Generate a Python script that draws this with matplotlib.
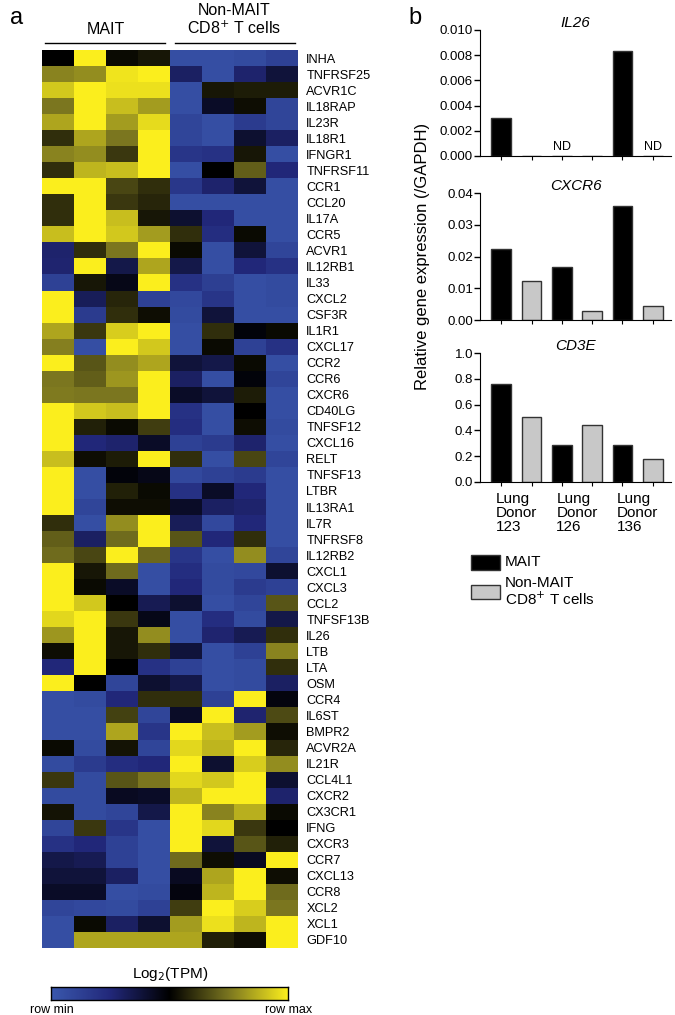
import numpy as np
import matplotlib
matplotlib.use("Agg")
import matplotlib.pyplot as plt
from matplotlib.colors import LinearSegmentedColormap

plt.rcParams['font.family'] = ['Liberation Sans', 'DejaVu Sans']

# heatmap rows (row-scaled: 0 = row min, 1 = row max)
genes = ['INHA', 'TNFRSF25', 'ACVR1C', 'IL18RAP', 'IL23R', 'IL18R1', 'IFNGR1', 'TNFRSF11',
         'CCR1', 'CCL20', 'IL17A', 'CCR5', 'ACVR1', 'IL12RB1', 'IL33', 'CXCL2', 'CSF3R',
         'IL1R1', 'CXCL17', 'CCR2', 'CCR6', 'CXCR6', 'CD40LG', 'TNFSF12', 'CXCL16', 'RELT',
         'TNFSF13', 'LTBR', 'IL13RA1', 'IL7R', 'TNFRSF8', 'IL12RB2', 'CXCL1', 'CXCL3', 'CCL2',
         'TNFSF13B', 'IL26', 'LTB', 'LTA', 'OSM', 'CCR4', 'IL6ST', 'BMPR2', 'ACVR2A', 'IL21R',
         'CCL4L1', 'CXCR2', 'CX3CR1', 'IFNG', 'CXCR3', 'CCR7', 'CXCL13', 'CCR8', 'XCL2',
         'XCL1', 'GDF10']

heat = [
    [0.50, 1.00, 0.52, 0.55, 0.05, 0.05, 0.07, 0.12],
    [0.78, 0.80, 0.98, 1.00, 0.30, 0.05, 0.28, 0.38],
    [0.92, 1.00, 0.97, 0.97, 0.05, 0.55, 0.56, 0.56],
    [0.75, 1.00, 0.90, 0.83, 0.05, 0.42, 0.53, 0.10],
    [0.85, 1.00, 0.83, 0.96, 0.10, 0.05, 0.15, 0.10],
    [0.60, 0.85, 0.75, 1.00, 0.10, 0.05, 0.40, 0.30],
    [0.78, 0.80, 0.62, 1.00, 0.18, 0.20, 0.55, 0.05],
    [0.60, 0.88, 0.90, 1.00, 0.05, 0.50, 0.70, 0.25],
    [1.00, 1.00, 0.65, 0.60, 0.17, 0.28, 0.38, 0.05],
    [0.60, 1.00, 0.62, 0.58, 0.05, 0.05, 0.05, 0.05],
    [0.60, 1.00, 0.90, 0.55, 0.40, 0.25, 0.05, 0.05],
    [0.90, 1.00, 0.92, 0.83, 0.60, 0.22, 0.52, 0.05],
    [0.28, 0.60, 0.75, 1.00, 0.52, 0.05, 0.38, 0.10],
    [0.27, 1.00, 0.35, 0.85, 0.35, 0.05, 0.25, 0.20],
    [0.12, 0.55, 0.45, 1.00, 0.20, 0.13, 0.05, 0.07],
    [1.00, 0.32, 0.58, 0.12, 0.08, 0.18, 0.05, 0.07],
    [1.00, 0.15, 0.60, 0.53, 0.07, 0.38, 0.05, 0.05],
    [0.85, 0.62, 0.93, 1.00, 0.05, 0.60, 0.48, 0.52],
    [0.77, 0.05, 1.00, 0.92, 0.05, 0.52, 0.12, 0.20],
    [1.00, 0.68, 0.80, 0.85, 0.38, 0.35, 0.52, 0.05],
    [0.75, 0.70, 0.82, 1.00, 0.30, 0.05, 0.48, 0.10],
    [0.76, 0.75, 0.75, 1.00, 0.42, 0.38, 0.56, 0.05],
    [1.00, 0.92, 0.90, 1.00, 0.20, 0.05, 0.50, 0.05],
    [1.00, 0.57, 0.52, 0.63, 0.22, 0.05, 0.53, 0.07],
    [1.00, 0.25, 0.28, 0.42, 0.12, 0.15, 0.28, 0.05],
    [0.90, 0.53, 0.56, 1.00, 0.60, 0.05, 0.65, 0.10],
    [1.00, 0.05, 0.48, 0.45, 0.08, 0.12, 0.15, 0.05],
    [1.00, 0.05, 0.57, 0.52, 0.20, 0.42, 0.25, 0.05],
    [1.00, 0.10, 0.53, 0.53, 0.42, 0.30, 0.28, 0.05],
    [0.60, 0.05, 0.80, 1.00, 0.32, 0.08, 0.25, 0.05],
    [0.70, 0.30, 0.73, 1.00, 0.68, 0.25, 0.60, 0.05],
    [0.73, 0.65, 1.00, 0.72, 0.18, 0.05, 0.80, 0.10],
    [1.00, 0.55, 0.73, 0.05, 0.22, 0.07, 0.08, 0.40],
    [1.00, 0.52, 0.42, 0.05, 0.25, 0.07, 0.15, 0.12],
    [1.00, 0.92, 0.50, 0.33, 0.40, 0.05, 0.10, 0.68],
    [0.95, 1.00, 0.62, 0.45, 0.05, 0.22, 0.07, 0.35],
    [0.82, 1.00, 0.55, 0.80, 0.05, 0.27, 0.33, 0.60],
    [0.53, 1.00, 0.55, 0.60, 0.38, 0.05, 0.12, 0.78],
    [0.25, 1.00, 0.50, 0.20, 0.12, 0.05, 0.07, 0.60],
    [1.00, 0.50, 0.10, 0.40, 0.35, 0.05, 0.07, 0.30],
    [0.05, 0.07, 0.25, 0.60, 0.60, 0.12, 1.00, 0.47],
    [0.05, 0.05, 0.64, 0.10, 0.42, 1.00, 0.27, 0.66],
    [0.05, 0.05, 0.85, 0.18, 1.00, 0.90, 0.83, 0.53],
    [0.52, 0.07, 0.54, 0.10, 0.95, 0.88, 1.00, 0.58],
    [0.07, 0.15, 0.22, 0.25, 1.00, 0.40, 0.93, 0.80],
    [0.62, 0.07, 0.68, 0.75, 0.95, 0.92, 1.00, 0.40],
    [0.07, 0.07, 0.43, 0.42, 0.88, 1.00, 1.00, 0.28],
    [0.54, 0.07, 0.10, 0.35, 1.00, 0.78, 0.87, 0.52],
    [0.10, 0.62, 0.18, 0.05, 1.00, 0.95, 0.62, 0.50],
    [0.20, 0.25, 0.12, 0.05, 1.00, 0.38, 0.68, 0.57],
    [0.35, 0.33, 0.12, 0.05, 0.73, 0.53, 0.43, 1.00],
    [0.38, 0.38, 0.30, 0.05, 0.43, 0.85, 1.00, 0.53],
    [0.42, 0.42, 0.05, 0.07, 0.47, 0.88, 1.00, 0.73],
    [0.10, 0.08, 0.07, 0.12, 0.63, 1.00, 0.93, 0.75],
    [0.05, 0.52, 0.30, 0.40, 0.83, 0.97, 0.88, 1.00],
    [0.05, 0.85, 0.85, 0.85, 0.85, 0.57, 0.53, 1.00],
]

# qPCR bars, order: MAIT, non-MAIT for donors 123, 126, 136
donors = ['Lung\nDonor\n123', 'Lung\nDonor\n126', 'Lung\nDonor\n136']
il26 = [0.0030, 0.0, np.nan, 0.0, 0.0083, np.nan]
cxcr6 = [0.0225, 0.0122, 0.0166, 0.0028, 0.0359, 0.0045]
cd3e = [0.76, 0.505, 0.29, 0.44, 0.29, 0.18]

cmap = LinearSegmentedColormap.from_list('bky', ['#3a58ad', '#22287a', '#000000', '#7a7520', '#fbee1d'])

fig = plt.figure(figsize=(6.75, 10.15), dpi=100)
W, H = 675.0, 1015.0

def px_axes(x0, y0, x1, y1):
    return fig.add_axes([x0 / W, 1 - y1 / H, (x1 - x0) / W, (y1 - y0) / H])

# ---- panel a: heatmap
ax = px_axes(42, 50, 298, 948)
ax.imshow(np.array(heat), cmap=cmap, vmin=0, vmax=1, aspect='auto', interpolation='nearest')
ax.set_xticks([])
ax.yaxis.tick_right()
ax.set_yticks(range(len(genes)))
ax.set_yticklabels(genes, fontsize=9.2)
ax.tick_params(axis='y', length=0, pad=6)
for s in ax.spines.values():
    s.set_visible(False)

ax.plot([-0.41, 3.35], [-0.95, -0.95], color='black', lw=1, clip_on=False)
ax.plot([3.65, 7.41], [-0.95, -0.95], color='black', lw=1, clip_on=False)
ax.set_xlim(-0.5, 7.5)
ax.set_ylim(len(genes) - 0.5, -0.5)
ax.text(1.5, -1.3, 'MAIT', ha='center', va='bottom', fontsize=11.5)
ax.text(5.5, -1.3, 'Non-MAIT\nCD8$^{+}$ T cells', ha='center', va='bottom', fontsize=11.5, linespacing=1.15)

fig.text(10 / W, 1 - 24 / H, 'a', fontsize=17)
fig.text(408 / W, 1 - 24 / H, 'b', fontsize=17)

# colour key
cax = px_axes(51, 987, 288, 1000)
cax.imshow(np.linspace(0, 1, 256)[None, :], cmap=cmap, aspect='auto')
cax.set_xticks([])
cax.set_yticks([])
for s in cax.spines.values():
    s.set_linewidth(1)
fig.text(170 / W, 1 - 978 / H, 'Log$_2$(TPM)', ha='center', fontsize=11)
fig.text(52 / W, 1 - 1013 / H, 'row min', ha='center', fontsize=9)
fig.text(289 / W, 1 - 1013 / H, 'row max', ha='center', fontsize=9)

# ---- panel b: bar charts
bar_colors = ['black', '#c8c8c8'] * 3
xpos = np.arange(6)

def bar_panel(y0, y1, vals, top, step, fmt, title, show_x):
    bx = px_axes(480, y0, 671, y1)
    v = np.nan_to_num(np.array(vals))
    bx.bar(xpos, v, width=0.65, color=bar_colors, edgecolor='#333333', linewidth=1)
    for i, val in enumerate(vals):
        if np.isnan(val):
            bx.text(i, top * 0.02, 'ND', ha='center', va='bottom', fontsize=9)
    bx.set_xlim(-0.7, 5.6)
    bx.set_ylim(0, top)
    bx.set_yticks(np.arange(0, top + step / 2, step))
    bx.set_yticklabels([fmt.format(t) for t in np.arange(0, top + step / 2, step)], fontsize=9.5)
    bx.set_xticks(xpos)
    bx.set_xticklabels([])
    bx.tick_params(axis='x', length=3, width=0.8)
    bx.tick_params(axis='y', length=4, width=1, pad=1)
    if show_x:
        bx.set_xticks([0.5, 2.5, 4.5], minor=True)
        bx.set_xticklabels(donors, minor=True, fontsize=11, ha='center', multialignment='left',
                           linespacing=1.0)
        bx.tick_params(axis='x', which='minor', length=0, pad=7)
    for s in ['top', 'right']:
        bx.spines[s].set_visible(False)
    bx.set_title(title, fontsize=11, style='italic', pad=0)
    return bx

bar_panel(30, 156, il26, 0.010, 0.002, '{:.3f}', 'IL26', False)
bar_panel(193, 320, cxcr6, 0.04, 0.01, '{:.2f}', 'CXCR6', False)
bar_panel(353, 482, cd3e, 1.0, 0.2, '{:.1f}', 'CD3E', True)

fig.text(422 / W, 1 - 256 / H, 'Relative gene expression (/GAPDH)', rotation=90,
         ha='center', va='center', fontsize=12)

# legend
fig.patches.append(plt.Rectangle((471 / W, 1 - 570 / H), 29 / W, 15 / H, transform=fig.transFigure,
                                 facecolor='black', edgecolor='#333333', lw=1))
fig.patches.append(plt.Rectangle((471 / W, 1 - 599 / H), 29 / W, 14 / H, transform=fig.transFigure,
                                 facecolor='#c8c8c8', edgecolor='#333333', lw=1))
fig.text(505 / W, 1 - 562 / H, 'MAIT', va='center', fontsize=11)
fig.text(505 / W, 1 - 592 / H, 'Non-MAIT\nCD8$^{+}$ T cells', va='center', fontsize=11, linespacing=1.0)

fig.savefig('out.png', dpi=100)
